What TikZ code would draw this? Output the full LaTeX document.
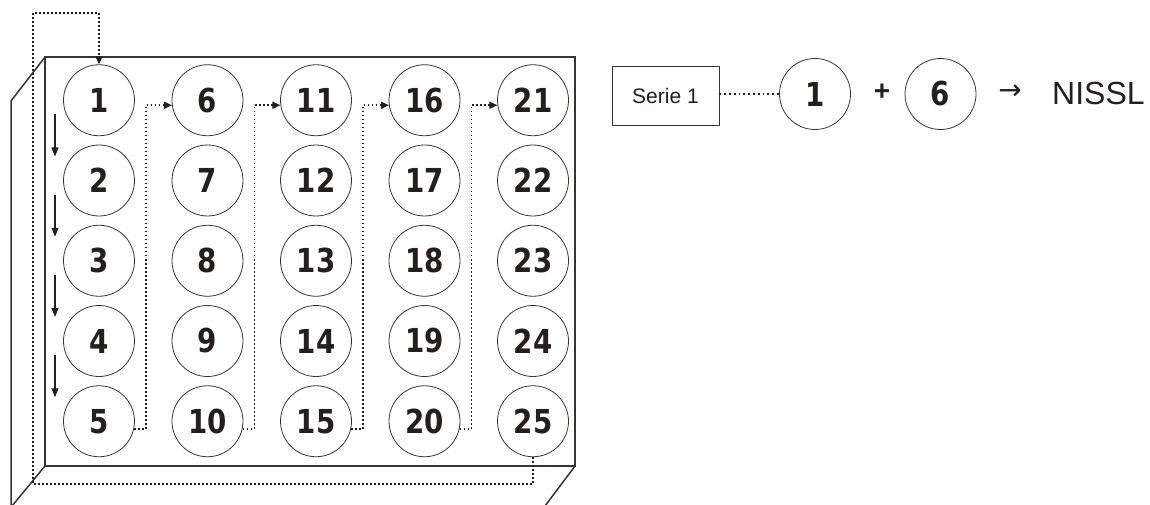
\documentclass[tikz,border=0pt]{standalone}
\usepackage{fontspec}
\setmainfont{Liberation Sans}
\newfontfamily\numfont[FakeStretch=0.84]{DejaVu Sans}
\newfontfamily\symfont{DejaVu Sans}
\usepackage{tikz}
\usetikzlibrary{
  arrows.meta,
  positioning,
  calc
}
\definecolor{plInk}{HTML}{231F1C}
\definecolor{plLine}{HTML}{3A3430}
\tikzset{
  well/.style={
    draw=plLine, circle, line width=0.8pt, minimum size=71pt, inner sep=0pt,
    text=plInk, font=\numfont\bfseries\fontsize{33}{33}\selectfont
  },
  panel/.style={draw=plLine, line width=1.5pt, line join=miter},
  seriebox/.style={draw=plLine, line width=0.9pt, minimum width=107pt, minimum height=59pt,
    inner sep=0pt, text=plInk, font=\fontsize{21}{21}\selectfont},
  serie/.style={plInk, line width=1.7pt, dash pattern=on 1.8pt off 2.2pt,
    -{Triangle[length=8pt, width=7pt]}},
  seriepath/.style={plInk, line width=1.5pt, dash pattern=on 1.8pt off 3pt},
  down/.style={plInk, line width=1.2pt, -{Triangle[length=9pt, width=7pt]}},
  tag/.style={text=plInk, inner sep=0pt}
}
\begin{document}
\begin{tikzpicture}[x=1pt, y=-1pt]
  \useasboundingbox (0,0) rectangle (1150,505);
  % plate
  \coordinate (ftl) at (45,57);
  \coordinate (fbr) at (575,466);
  \draw[panel] (ftl) rectangle (fbr);
  \draw[panel] (ftl) -- (11,101) -- (11,506);
  \draw[panel] (ftl |- fbr) -- (12,506);
  \draw[panel] (fbr) -- (545,506);
  % wells
  \foreach \c in {0,...,4} {
    \foreach \r in {0,...,4} {
      \pgfmathtruncatemacro{\n}{5*\c+\r+1}
      \node[well] (w\n) at (99+108.5*\c, 100.25+80.25*\r) {\n};
    }
  }
  % fill order
  \foreach \a/\b in {1/2,2/3,3/4,4/5}
    \draw[down] ([xshift=-44pt,yshift=-14pt]w\a.center) -- ([xshift=-44pt,yshift=24pt]w\b.center);
  \foreach \a/\b in {5/6,10/11,15/16,20/21}
    \draw[serie] (w\a.-12) -| ([xshift=11pt]w\a.east) |- (w\b.188);
  \coordinate (loopbl) at (33,484);
  \coordinate (looptl) at (33,13);
  \draw[serie] (w25.south) |- (loopbl) -- (looptl) -| (w1.north);
  % legend
  \node[seriebox] (s1) at (665.5,95.5) {Serie 1};
  \node[well] (r1) at (815,94) {1};
  \node[tag, font=\bfseries\fontsize{28}{28}\selectfont] (plus) at (882,92) {+};
  \node[well] (r6) at (940.5,94) {6};
  \node[tag, font=\symfont\fontsize{28}{28}\selectfont] (to) at (1010,92) {→};
  \node[tag, anchor=west, font=\fontsize{32}{32}\selectfont] (nissl) at (1052,93) {NISSL};
  \draw[seriepath] (s1.east |- r1.west) -- (r1.west);
\end{tikzpicture}
\end{document}
